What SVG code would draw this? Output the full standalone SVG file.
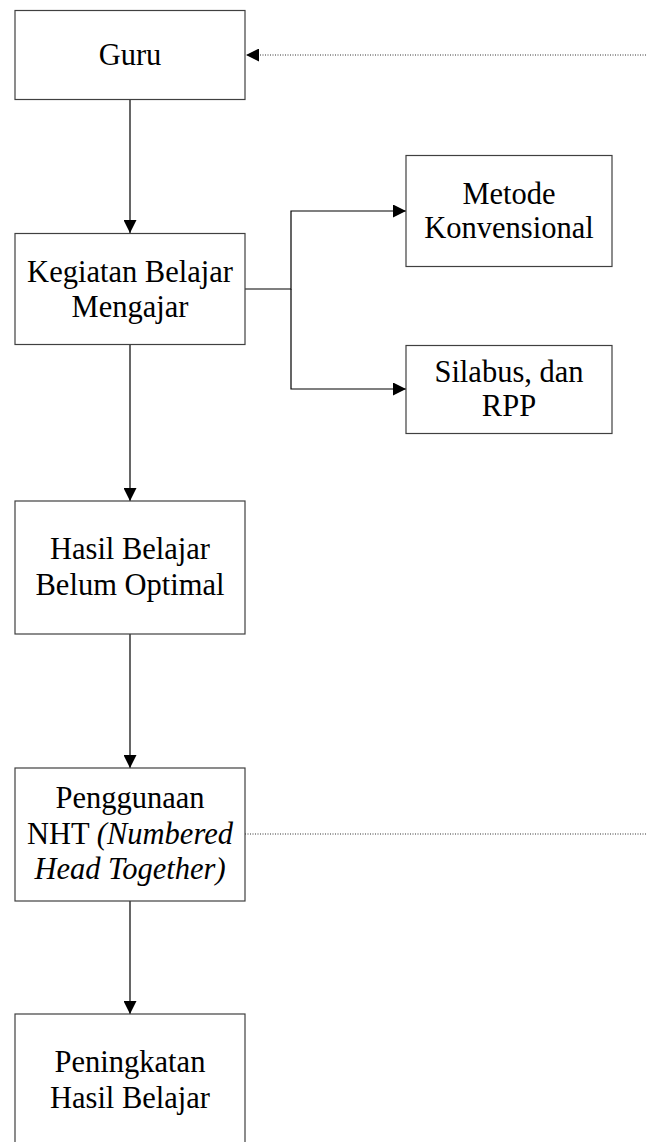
<svg xmlns="http://www.w3.org/2000/svg" width="646" height="1142" viewBox="0 0 646 1142">
<style>
.box{fill:#fff;stroke:#404040;stroke-width:1.2}
.t{font-family:"Liberation Serif","Times New Roman",serif;font-size:30.5px;fill:#000;text-anchor:middle}
.ln{fill:none;stroke:#000;stroke-width:1.2}
.dot{fill:none;stroke:#333;stroke-width:1;stroke-dasharray:1 1.5}
</style>
<defs>
<marker id="ah" viewBox="0 0 10 10" refX="10" refY="5" markerWidth="13" markerHeight="13" markerUnits="userSpaceOnUse" orient="auto">
<path d="M0,0 L10,5 L0,10 Z" fill="#000"/>
</marker>
</defs>
<g id="connectors">
<line class="dot" x1="646" y1="55" x2="246" y2="55" marker-end="url(#ah)"/>
<line class="ln" x1="130" y1="100" x2="130" y2="233" marker-end="url(#ah)"/>
<polyline class="ln" points="245,289 291,289 291,211 406,211" marker-end="url(#ah)"/>
<polyline class="ln" points="291,289 291,389 406,389" marker-end="url(#ah)"/>
<line class="ln" x1="130" y1="345" x2="130" y2="501" marker-end="url(#ah)"/>
<line class="ln" x1="130" y1="634" x2="130" y2="768" marker-end="url(#ah)"/>
<line class="ln" x1="130" y1="901" x2="130" y2="1014" marker-end="url(#ah)"/>
<line class="dot" x1="245" y1="834" x2="646" y2="834"/>
</g>
<g id="guru">
<rect class="box" x="15" y="10.5" width="230" height="89"/>
<text class="t" x="130" y="65">Guru</text>
</g>
<g id="kbm">
<rect class="box" x="15" y="233.5" width="230" height="111"/>
<text class="t" x="130" y="282">Kegiatan Belajar</text>
<text class="t" x="130" y="317">Mengajar</text>
</g>
<g id="metode">
<rect class="box" x="406" y="155.5" width="206" height="111"/>
<text class="t" x="509" y="204">Metode</text>
<text class="t" x="509" y="238">Konvensional</text>
</g>
<g id="silabus">
<rect class="box" x="406" y="345.5" width="206" height="88"/>
<text class="t" x="509" y="382">Silabus, dan</text>
<text class="t" x="509" y="416">RPP</text>
</g>
<g id="hasil">
<rect class="box" x="15" y="501" width="230" height="133"/>
<text class="t" x="130" y="559">Hasil Belajar</text>
<text class="t" x="130" y="595">Belum Optimal</text>
</g>
<g id="nht">
<rect class="box" x="15" y="768" width="230" height="133"/>
<text class="t" x="130" y="808">Penggunaan</text>
<text class="t" x="130" y="844">NHT <tspan font-style="italic">(Numbered</tspan></text>
<text class="t" x="130" y="879" font-style="italic">Head Together)</text>
</g>
<g id="peningkatan">
<rect class="box" x="15" y="1014" width="230" height="140"/>
<text class="t" x="130" y="1072">Peningkatan</text>
<text class="t" x="130" y="1108">Hasil Belajar</text>
</g>
</svg>
